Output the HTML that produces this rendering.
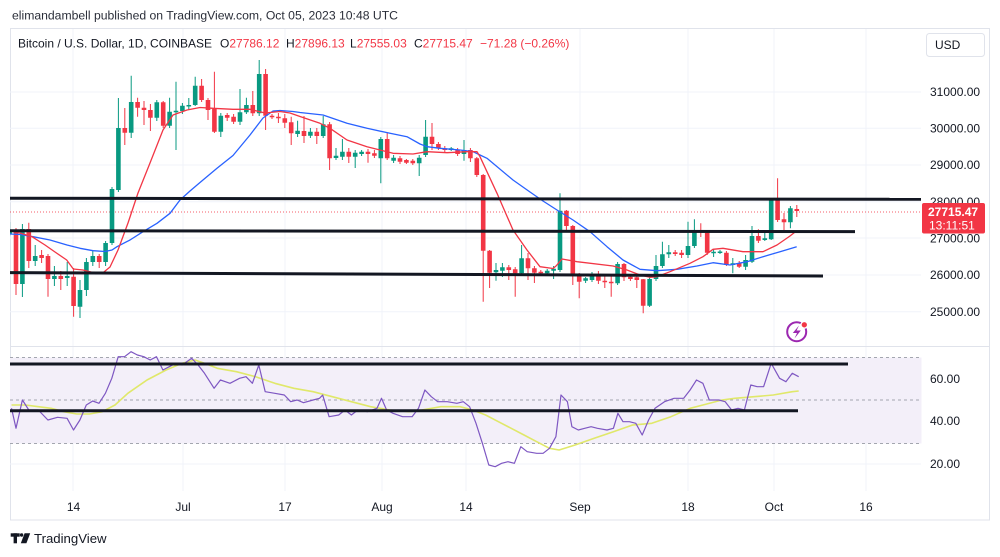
<!DOCTYPE html>
<html><head><meta charset="utf-8"><style>
html,body{margin:0;padding:0;background:#fff;}
svg{display:block;font-family:"Liberation Sans",sans-serif;}
</style></head><body>
<svg width="1000" height="557" viewBox="0 0 1000 557" xmlns="http://www.w3.org/2000/svg">
<defs>
<clipPath id="pc"><rect x="10" y="28" width="911" height="318"/></clipPath>
</defs>
<rect width="1000" height="557" fill="#fff"/>
<text x="12" y="19.5" font-size="12.2" fill="#2a2e39">elimandambell published on TradingView.com, Oct 05, 2023 10:48 UTC</text>
<!-- frame -->
<rect x="10.5" y="28.5" width="979" height="491.5" fill="none" stroke="#e0e3eb" stroke-width="1"/>
<!-- grid -->
<g stroke="#f0f3fa" stroke-width="1">
<path d="M10 92H921M10 128.3H921M10 165H921M10 201.7H921M10 238H921M10 275H921M10 311.7H921"/>
<path d="M10 379H921M10 421H921M10 464H921"/>
<path d="M73 29V491M183 29V491M285 29V491M382 29V491M466 29V491M580 29V491M688 29V491M774 29V491M866 29V491"/>
</g>
<!-- pane separator -->
<path d="M10 346.5H989" stroke="#e0e3eb" stroke-width="1"/>
<!-- RSI band -->
<rect x="10" y="357.5" width="911.5" height="86" fill="#f3eff9"/>
<g stroke="#a3a6af" stroke-width="1" stroke-dasharray="3,3">
<path d="M10 357.5H921M10 400H921M10 443.5H921"/>
</g>
<!-- header -->
<text x="18" y="47.5" font-size="12" fill="#131722">Bitcoin / U.S. Dollar, 1D, COINBASE</text>
<text x="220" y="47.5" font-size="12" fill="#131722">O<tspan fill="#f23645">27786.12</tspan></text>
<text x="286" y="47.5" font-size="12" fill="#131722">H<tspan fill="#f23645">27896.13</tspan></text>
<text x="350" y="47.5" font-size="12" fill="#131722">L<tspan fill="#f23645">27555.03</tspan></text>
<text x="414" y="47.5" font-size="12" fill="#131722">C<tspan fill="#f23645">27715.47</tspan></text>
<text x="480" y="47.5" font-size="12" fill="#f23645">−71.28 (−0.26%)</text>
<rect x="926.5" y="33.5" width="58" height="23" rx="3" fill="#fff" stroke="#e0e3eb"/>
<text x="935" y="49" font-size="12" fill="#131722">USD</text>
<!-- price pane -->
<g clip-path="url(#pc)">
<path d="M10 212H921" stroke="#f23645" stroke-width="1" stroke-dasharray="1,2" opacity="0.8"/>
<!-- wicks -->
<path fill="none" stroke="#089981" stroke-width="1" d="M9.6 222V236M22.4 224V297M35.2 245V266M54.4 266V286M67.2 262V286M80 280V318M86.4 258V296M92.8 250V266M105.6 241V266M112 187V245M118.4 98V192M131.2 75.7V138M156.8 100V121M169.6 97.7V128M176 81.7V150M182.4 103V114M188.8 98V110M195.2 76.7V106M220.8 113V137M240 89V125M246.4 97.7V114M259.2 60V116M297.6 120.7V137M310.4 128V138M323.2 116V138M336 148V160M342.4 139V160M355.2 150V168M361.6 150V156M380.8 137V183.3M393.6 155V163M419.2 155V176M425.6 120V157M451.2 147V151M464 140V160.7M496 263V280.7M502.4 263V277M521.6 245V275M547.2 269V275M553.6 266V279M560 193.3V272M585.6 277V283M592 272V282M617.6 262V285M649.6 276V307M656 255V281M662.4 241.7V268M668.8 245V258M688 221.7V258M694.4 219.3V248M713.6 249V257M720 250V254M732.8 258V273.3M745.6 255V270M752 226V263M764.8 233V241M771.2 198V240M790.4 206V228.3"/>
<path fill="none" stroke="#f23645" stroke-width="1" d="M16 228V295M28.8 222.7V268M41.6 250V263M48 254V296.7M60.8 271V290M73.6 268V316.7M99.2 254V268M124.8 108V145M137.6 97.7V116.7M144 101V125M150.4 104V131M163.2 101V128M201.6 79V102M208 98V120M214.4 71.7V133M227.2 113V121M233.6 114V124M252.8 91V116M265.6 69V130M272 114V119M278.4 113V123M284.8 114V128M291.2 116.7V145M304 116V143M316.8 128V144M329.6 122V170M348.8 148V163M368 149V162.7M374.4 150V158M387.2 133V160M400 156V164M406.4 159V164M412.8 159V165M432 123V150M438.4 142V150M444.8 146V152M457.6 148V156M470.4 148V162M476.8 157V177M483.2 174V301.7M489.6 250V288M508.8 265V280M515.2 267V296.7M528 253V280M534.4 266V283M540.8 270V275M566.4 210V231M572.8 225V285M579.2 273V298.3M598.4 271V284M604.8 276V288M611.2 276V296.7M624 263V281M630.4 275V281M636.8 276V288M643.2 279V313.3M675.2 250V256M681.6 250V258M700.8 223.3V237M707.2 231V255M726.4 251V266M739.2 261V268M758.4 229.3V243M777.6 178.3V222M784 213V230M796.8 205V217"/>
<!-- bodies -->
<path fill="none" stroke="#089981" stroke-width="4.6" d="M9.6 231V234M22.4 229V284M35.2 256V261M54.4 276V279M67.2 276V278M80 290V306.7M86.4 262V290M92.8 256V262M105.6 243V262M112 189V243M118.4 128V190M131.2 102V132.7M156.8 102.3V117.7M169.6 111.7V125.7M176 110.7V112.3M182.4 105.7V111M188.8 105V106.5M195.2 85.7V105M220.8 115.7V131.7M240 112.3V121.7M246.4 105V112.3M259.2 74V113.3M297.6 130.7V134M310.4 131.7V135.7M323.2 124.3V136M336 155.7V158M342.4 151.7V156.7M355.2 152.7V156.7M361.6 151.7V154M380.8 139V158.3M393.6 157.7V160.7M419.2 157.7V163.3M425.6 136.7V155M451.2 148.3V150M464 150V154M496 270V272.3M502.4 267.3V270.7M521.6 258.3V273.3M547.2 270.7V273.3M553.6 268.7V270.7M560 210.7V270M585.6 278.3V280.7M592 274.3V280M617.6 264V283.3M649.6 279V305.7M656 266V279M662.4 254.3V266M668.8 252.3V254.3M688 246V255M694.4 230V246M713.6 251.7V253.3M720 251.5V253M732.8 263.3V265M745.6 260V266.7M752 236V261.7M764.8 238.3V240M771.2 199.3V239.3M790.4 208.3V222.3"/>
<path fill="none" stroke="#f23645" stroke-width="4.6" d="M16 230V284M28.8 229V261M41.6 255V258M48 256V279M60.8 276V279M73.6 276.7V306M99.2 256V262M124.8 128V132.7M137.6 102V107.7M144 107.7V110M150.4 110V117.7M163.2 102.3V125.7M201.6 85.7V100M208 100V110M214.4 109V131.7M227.2 115V117.7M233.6 116.7V121.7M252.8 105V113.3M265.6 74V115.7M272 115.7V117.3M278.4 116.7V118.3M284.8 118.3V122.7M291.2 122.3V133.3M304 131V136M316.8 131.7V136M329.6 124.3V158.3M348.8 151.7V156.7M368 151.7V154M374.4 153.3V155.7M387.2 139V158.3M400 158.3V161.7M406.4 160V162.7M412.8 160.7V163.3M432 136.7V144M438.4 144V148.3M444.8 148.3V150M457.6 150V154M470.4 150V158.3M476.8 158.3V175M483.2 175V250.7M489.6 250.7V272.7M508.8 267.3V270M515.2 269.3V273.3M528 258.3V268.3M534.4 268.3V272.7M540.8 271.7V273.3M566.4 210.7V226M572.8 226V275M579.2 275V281.7M598.4 274.3V280.7M604.8 280.7V282.3M611.2 281.7V283.3M624 264V277.3M630.4 276.7V279M636.8 277.3V280M643.2 279.3V305.7M675.2 252.3V254M681.6 252.7V255M700.8 230V231.7M707.2 232.7V252.7M726.4 252.7V265M739.2 263.3V266.7M758.4 236V240.7M777.6 199.3V220M784 219.3V222.3M796.8 209V211"/>
<!-- MAs -->
<path fill="none" stroke="#2962ff" stroke-width="1.3" stroke-linejoin="round" d="M10 234L20 234.5L33 236.7L50 240L67 245L80 248.3L93 250.7L105 251.5L112 250L117 246.7L130 240L143 231.7L157 223.3L170 213.3L180 200L190 191L200 182.5L217 168.3L233 155.5L250 135L263 118L273 111L280 110.5L293 111.5L300 112.5L323 115L347 123.3L367 128.3L390 133.3L407 136.7L420 144L427 146.7L440 148.3L460 150L473 151.7L480 155L487 158.3L513 180L530 192L543 201L557 210L573 220L590 231.7L607 246.7L623 260L640 269.3L657 270.7L677 269.3L697 266L713 262.7L730 265L747 261.7L763 256.7L780 251.7L796.7 246.7"/>
<path fill="none" stroke="#f23645" stroke-width="1.3" stroke-linejoin="round" d="M10 231L20 233L32 236.7L45 245L55 252L66.7 260L73.3 269L83 270L93 272.5L103 272.7L110 267L118 250L128 223L138 193L150 163L163 130L173 115L187 110L200 107.5L213 108.3L233 109.3L250 109.3L265 113L280 111.5L290 113L300 116.5L320 123.3L330 128.3L347 140L367 146.7L380 150L393 153.3L413 154L427 151.7L447 152.7L467 151.7L477 151.7L480 156.7L497 193.3L513 230L527 250L540 266.7L553 268.5L556 266L562 259L577 261.7L613 266L627 270L640 275L650 277.3L657 276.7L670 271.7L690 263.3L703 256.7L713 249.3L723 248.3L743 251.7L763 251.7L777 245L790 236L796.7 230.7"/>
<!-- S/R lines -->
<g stroke="#131722" stroke-width="3" fill="none">
<path d="M10 198.3L921 199.3"/>
<path d="M10 230.8L855 231.6"/>
<path d="M10 272.6L823 276"/>
</g>
</g>
<!-- price labels -->
<g font-size="12" fill="#131722">
<text x="930" y="96">31000.00</text>
<text x="930" y="132.5">30000.00</text>
<text x="930" y="169">29000.00</text>
<text x="930" y="206">28000.00</text>
<text x="930" y="242.5">27000.00</text>
<text x="930" y="279">26000.00</text>
<text x="930" y="316">25000.00</text>
<text x="930" y="383">60.00</text>
<text x="930" y="425">40.00</text>
<text x="930" y="468">20.00</text>
</g>
<rect x="922" y="203" width="63" height="30.5" rx="2" fill="#f23645"/>
<text x="928" y="216" font-size="12" font-weight="bold" fill="#fff">27715.47</text>
<text x="929" y="229.5" font-size="12" fill="#fff">13:11:51</text>
<!-- lightning icon -->
<circle cx="796.7" cy="331.7" r="9.5" fill="#fff" stroke="#9c27b0" stroke-width="2"/>
<path d="M799 325.5L792.8 333H797L794.5 338.5L800.8 330.5H796.6Z" fill="#9c27b0"/>
<circle cx="804.3" cy="324.8" r="3.3" fill="#f23645" stroke="#fff" stroke-width="1.3"/>
<!-- RSI -->
<path fill="none" stroke="#e0e86a" stroke-width="1.6" stroke-linejoin="round" d="M11.5 405L25.6 405L38.3 406.7L51.1 408.3L63.9 411.7L76.7 414L89.5 414L102.2 411.7L115 405L127.8 393.3L147 380L166.1 370L182.1 363.3L194.9 360L204.5 363.3L217.3 368.3L236.4 371.7L255.6 376.7L274.8 383.3L293.9 388.3L313.1 391.7L332.3 396.7L351.4 401.7L370.6 406.7L389.8 410L408.9 411.7L421.7 410L440.9 406.7L460.1 406.7L472.8 410L485.6 415L498.4 421.7L511.2 428.3L524 435L536.7 441.7L549.5 448.3L559.1 450L575.1 445L594.2 438.3L613.4 431.7L632.6 425L651.8 423.3L670.9 416.7L690.1 408.3L702.9 405L722 400L734.8 398.3L754 396.7L773.2 395L792.3 391.7L798.7 391"/>
<path fill="none" stroke="#7e57c2" stroke-width="1.2" stroke-linejoin="round" d="M11.5 408.3L16 428.3L22.4 400L28.8 410L38.3 410L47.9 420L57.5 417.3L67.1 418.3L73.5 430L79.9 420L86.3 405L92.7 401L99 403.3L105.4 393.3L111.8 378.3L118.2 356.7L124.6 356.7L131 351.7L137.4 355L143.8 356.7L150.2 360L156.5 356.7L162.9 370L169.3 366.7L175.7 363.3L182.1 365L191.7 358.3L198.1 365L204.5 373.3L214.1 388.3L220.4 380L230 383.3L239.6 378.3L246 376.7L252.4 383.3L258.8 365L265.2 391.7L274.8 393.3L284.3 395L290.7 401.7L297.1 400L303.5 402.7L313.1 400L319.5 398.3L322.7 395L329.1 416.7L338.7 415L345 410L351.4 415L357.8 410L367.4 411.7L377 408.3L381.5 398.3L386.6 410L393 413.3L402.6 416.7L412.1 416.7L418.5 408.3L424.9 390L431.3 396.7L437.7 401.7L447.3 401.7L456.9 403.3L463.3 401.7L469.6 406.7L476 423.3L482.4 443.3L488.8 465L495.2 466.7L501.6 463.3L508 461.7L514.4 463.3L520.8 446.7L527.2 451.7L536.7 453.3L543.1 453.3L549.5 448.3L555.9 436.7L561 395L567.4 401.7L571.9 426.7L578.3 430L584.7 428.3L591.1 426.7L597.4 428.3L607 430L613.4 428.3L617.9 413.3L623 421.7L629.4 421.7L635.8 423.3L642.2 435L648.6 420L655 408.3L664.5 401.7L674.1 398.3L683.7 398.3L690.1 390L696.5 380L702.9 383.3L709.3 400L718.8 400L725.2 401.7L731.6 410L738 408.3L744.4 410L750.8 385L757.2 386.7L763.6 386.7L771.2 363.3L779.6 378.3L785.9 381.7L792.3 373.3L798.7 376.7"/>
<g stroke="#131722" stroke-width="3" fill="none">
<path d="M10 364H848"/>
<path d="M10 410.7H798"/>
</g>
<!-- time labels -->
<g font-size="12" fill="#131722" text-anchor="middle">
<text x="73.5" y="511">14</text>
<text x="183" y="511">Jul</text>
<text x="285" y="511">17</text>
<text x="382" y="511">Aug</text>
<text x="466" y="511">14</text>
<text x="580" y="511">Sep</text>
<text x="688" y="511">18</text>
<text x="774" y="511">Oct</text>
<text x="866" y="511">16</text>
</g>
<!-- footer logo -->
<g fill="#131722">
<rect x="10.7" y="533.3" width="9" height="3.4"/>
<rect x="13.6" y="533.3" width="3.4" height="10"/>
<circle cx="21.6" cy="535" r="1.7"/>
<path d="M24.6 533.3H30.2L26.4 543.3H20.8Z"/>
</g>
<text x="34" y="543" font-size="13.2" fill="#131722">TradingView</text>
</svg>
</body></html>
